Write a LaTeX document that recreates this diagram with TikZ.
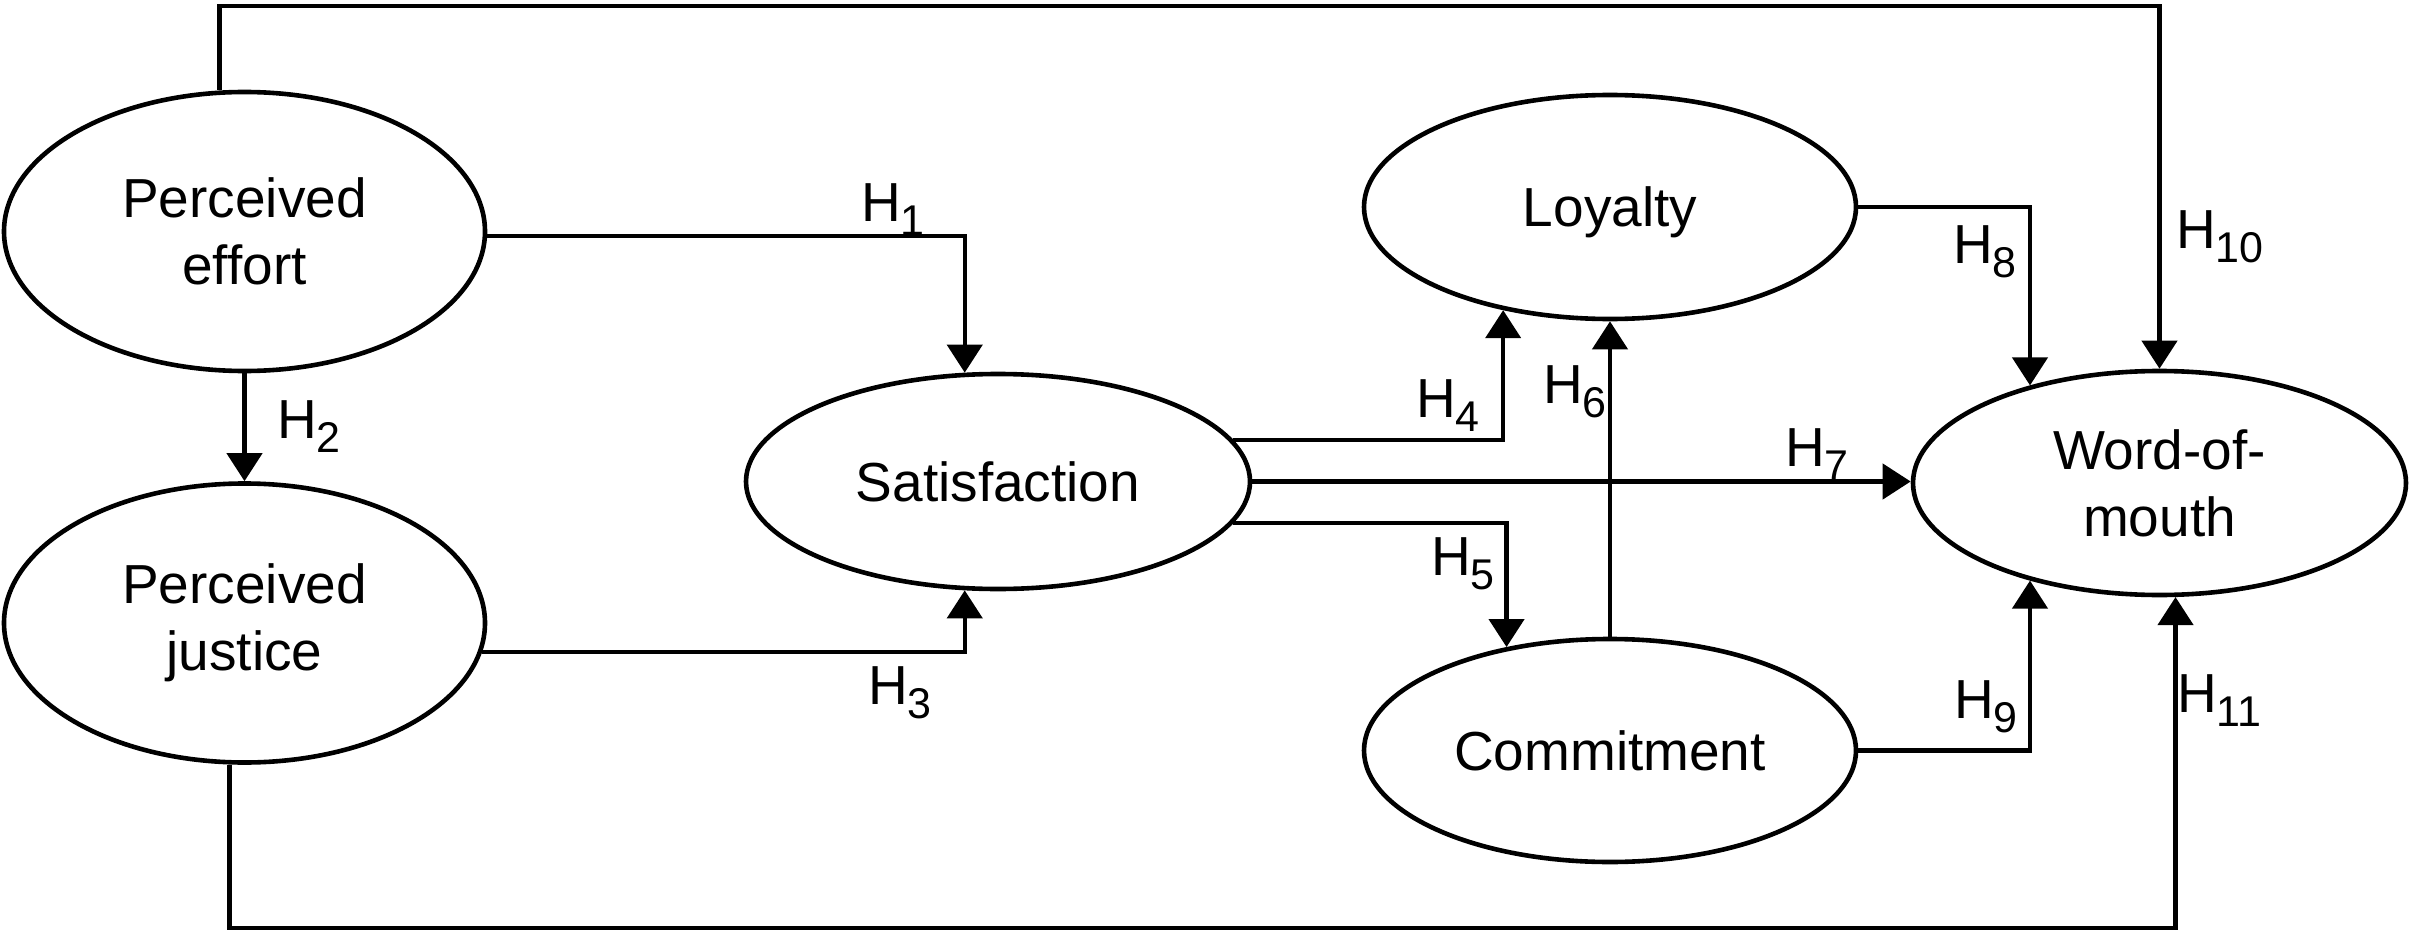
\documentclass[tikz,border=0pt]{standalone}
\usepackage{fontspec}
\setmainfont{Liberation Sans}
\usetikzlibrary{arrows.meta,shapes.geometric}
\newcommand{\Hs}[1]{H\raisebox{-14pt}{\fontsize{43}{43}\selectfont #1}}
\begin{document}
\begin{tikzpicture}[x=1pt,y=-1pt,
  ell/.style={ellipse, draw, line width=4.6pt, inner sep=0pt, align=center, font=\fontsize{55}{67}\selectfont},
  lab/.style={anchor=base west, inner sep=0pt, font=\fontsize{55}{67}\selectfont},
  conn/.style={line width=4.4pt},
  arr/.style={conn, -{Triangle[length=28pt,width=35pt]}}]
\fill[white] (0,0) rectangle (2410,931);
\useasboundingbox (0,0) rectangle (2410,931);

\node[ell, minimum width=481pt, minimum height=279pt] (eff) at (244.5,231.5) {Perceived\\effort};
\node[ell, minimum width=481pt, minimum height=279pt] (jus) at (244.5,623) {Perceived\\justice};
\node[ell, minimum width=504pt, minimum height=215pt] (sat) at (998,481.5) {Satisfaction};
\node[ell, minimum width=492pt, minimum height=224pt, text depth=0pt] (loy) at (1610,207) {Loyalty};
\node[ell, minimum width=492pt, minimum height=223pt] (com) at (1610,750.5) {Commitment};
\node[ell, minimum width=493pt, minimum height=224pt] (wom) at (2159.5,483) {Word-of-\\mouth};

\coordinate (topy) at (0,6);
\coordinate (boty) at (0,928);

\draw[arr] (eff.100.6) -- (eff.100.6 |- topy) -| (wom.north);
\draw[arr] (eff.-1.5) -| (sat.107.3);
\draw[arr] (eff.south) -- (jus.north);
\draw[arr] (jus.-7.45) -| (sat.-107.3);
\draw[arr] (sat.10.3) -| (loy.224.9);
\draw[arr] (sat.east) -- (sat.east -| wom.west);
\draw[arr] (sat.-10.7) -| (com.135.3);
\draw[arr] (com.north) -- (loy.south);
\draw[arr] (loy.east) -| (wom.143);
\draw[arr] (com.east) -| (wom.217);
\draw[arr] (jus.-96.5) -- (jus.-96.5 |- boty) -| (wom.-82.5);

\node[lab] (h1) at (861,221) {\Hs{1}};
\node[lab] (h2) at (277,438) {\Hs{2}};
\node[lab] (h3) at (868,704) {\Hs{3}};
\node[lab] (h4) at (1416,417) {\Hs{4}};
\node[lab] (h5) at (1431,575) {\Hs{5}};
\node[lab] (h6) at (1543,403) {\Hs{6}};
\node[lab] (h7) at (1785,466) {\Hs{7}};
\node[lab] (h8) at (1953,263) {\Hs{8}};
\node[lab] (h9) at (1954,718) {\Hs{9}};
\node[lab] (h10) at (2176,248) {\Hs{10}};
\node[lab] (h11) at (2177,712) {\Hs{11}};
\end{tikzpicture}
\end{document}
